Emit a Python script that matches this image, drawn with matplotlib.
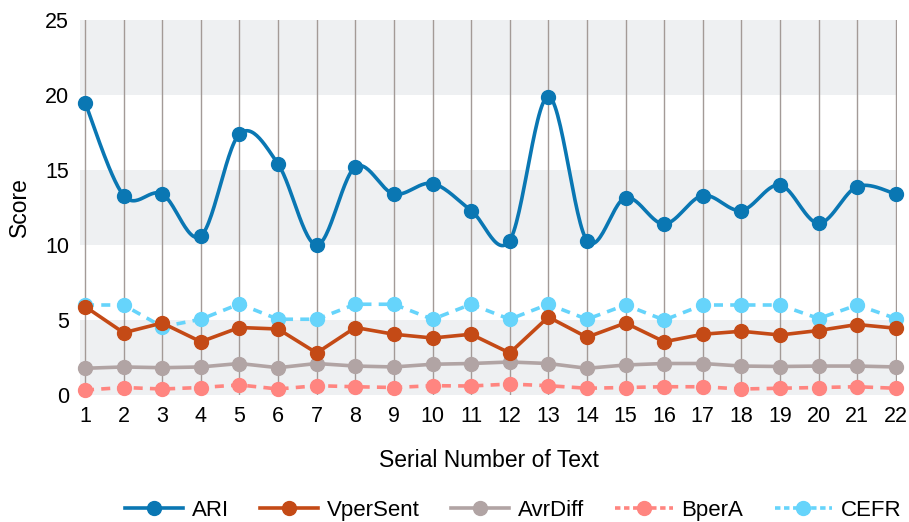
import numpy as np
import matplotlib.pyplot as plt
from matplotlib.lines import Line2D

plt.rcParams['font.family'] = ['Liberation Sans', 'DejaVu Sans']

texts = list(range(1, 23))
ari = [19.5, 13.3, 13.4, 10.6, 17.4, 15.4, 10.0, 15.2, 13.4, 14.1, 12.3,
       10.3, 19.9, 10.3, 13.15, 11.4, 13.3, 12.3, 14.0, 11.45, 13.9, 13.4]
vpersent = [5.9, 4.15, 4.8, 3.55, 4.5, 4.4, 2.8, 4.5, 4.05, 3.8, 4.05,
            2.8, 5.2, 3.85, 4.8, 3.55, 4.05, 4.25, 4.0, 4.3, 4.7, 4.45]
avrdiff = [1.78, 1.87, 1.82, 1.87, 2.1, 1.82, 2.1, 1.93, 1.87, 2.05, 2.1,
           2.2, 2.1, 1.78, 2.0, 2.1, 2.1, 1.93, 1.9, 1.93, 1.93, 1.87]
bpera = [0.33, 0.5, 0.4, 0.5, 0.67, 0.4, 0.62, 0.55, 0.5, 0.62, 0.6,
         0.73, 0.62, 0.45, 0.5, 0.55, 0.55, 0.4, 0.45, 0.5, 0.55, 0.45]
cefr = [6.0, 6.0, 4.55, 5.05, 6.07, 5.05, 5.05, 6.05, 6.05, 5.05, 6.05,
        5.05, 6.05, 5.05, 6.0, 5.0, 6.0, 6.0, 6.0, 5.1, 6.0, 5.1]


def smooth(x, y, n=30):
    # catmull-rom style smoothing, like office charts
    x = np.asarray(x, float)
    y = np.asarray(y, float)
    px = np.concatenate([[x[0]], x, [x[-1]]])
    py = np.concatenate([[y[0]], y, [y[-1]]])
    xs, ys = [], []
    t = np.linspace(0, 1, n)
    for i in range(1, len(px) - 2):
        p0, p1, p2, p3 = px[i - 1:i + 3]
        q0, q1, q2, q3 = py[i - 1:i + 3]
        for a0, a1, a2, a3, out in ((p0, p1, p2, p3, xs), (q0, q1, q2, q3, ys)):
            out.extend(0.5 * (2 * a1 + (-a0 + a2) * t + (2 * a0 - 5 * a1 + 4 * a2 - a3) * t ** 2
                              + (-a0 + 3 * a1 - 3 * a2 + a3) * t ** 3))
    return xs, ys


fig = plt.figure(figsize=(9.09, 5.22), dpi=100)
ax = fig.add_axes([80 / 909, 1 - 395 / 522, 817 / 909, 375 / 522])

for lo in (0, 10, 20):
    ax.axhspan(lo, lo + 5, color='#eef0f2', zorder=0, lw=0)
for x in texts:
    ax.axvline(x, color='#a39a97', lw=1, zorder=1)

sx, sy = smooth(texts, ari)
ax.plot(sx, sy, color='#0a77b3', lw=2.6, zorder=5, clip_on=False)
ax.plot(texts, ari, 'o', color='#0a77b3', ms=10, zorder=6, clip_on=False)
ax.plot(texts, vpersent, '-o', color='#c44a16', lw=2.6, ms=10, zorder=5, clip_on=False)
ax.plot(texts, avrdiff, '-o', color='#b1a4a4', lw=2.6, ms=10, zorder=4, clip_on=False)
ax.plot(texts, bpera, '--o', color='#ff8580', lw=2.6, ms=10, dashes=(2.5, 2), zorder=4, clip_on=False)
ax.plot(texts, cefr, '--o', color='#66d4fb', lw=2.6, ms=10, dashes=(2.5, 2), zorder=4, clip_on=False)

ax.set_xlim(0.87, 22.03)
ax.set_ylim(0, 25)
ax.set_xticks(texts)
ax.set_yticks([0, 5, 10, 15, 20, 25])
ax.tick_params(length=0, labelsize=15.5, pad=8)
for s in ax.spines.values():
    s.set_visible(False)
ax.set_xlabel('Serial Number of Text', fontsize=16.5, labelpad=16)
ax.set_ylabel('Score', fontsize=16.5, labelpad=10)

handles = [
    Line2D([], [], color='#0a77b3', lw=2.6, marker='o', ms=10),
    Line2D([], [], color='#c44a16', lw=2.6, marker='o', ms=10),
    Line2D([], [], color='#b1a4a4', lw=2.6, marker='o', ms=10),
    Line2D([], [], color='#ff8580', lw=2.6, marker='o', ms=10, ls='--', dashes=(1.5, 1)),
    Line2D([], [], color='#66d4fb', lw=2.6, marker='o', ms=10, ls='--', dashes=(1.5, 1)),
]
fig.legend(handles, ['ARI', 'VperSent', 'AvrDiff', 'BperA', 'CEFR'], loc='center',
           bbox_to_anchor=(0.565, 0.022), ncol=5, frameon=False, fontsize=16,
           handlelength=2.6, columnspacing=1.4, handletextpad=0.4)

fig.savefig('out.png', dpi=100)
